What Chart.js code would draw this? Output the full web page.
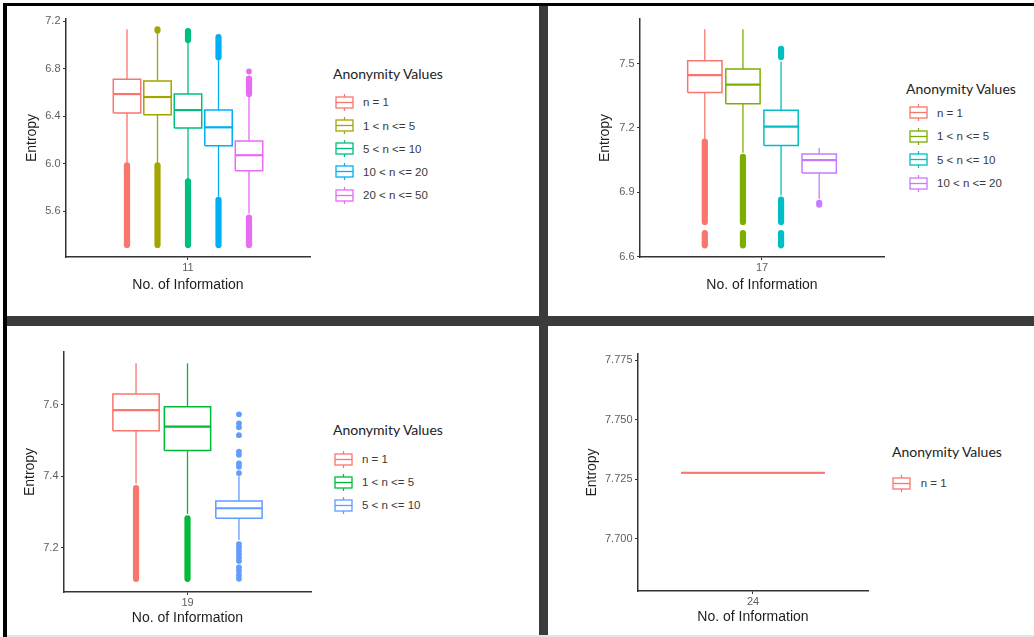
<!DOCTYPE html>
<html>
<head>
<meta charset="utf-8">
<title>Entropy by anonymity values</title>
<script src="https://cdn.jsdelivr.net/npm/chart.js"></script>
<style>
  html, body { margin: 0; padding: 0; background: #fff; }
  #page { position: relative; width: 1034px; height: 637px; overflow: hidden; background: #fff; }
  .frame-top { position: absolute; left: 3px; top: 3px; width: 1031px; height: 3px; background: #000; }
  .frame-left { position: absolute; left: 3px; top: 3px; width: 4px; height: 634px; background: #000; }
  .split-v { position: absolute; left: 539px; top: 6px; width: 9px; height: 631px; background: #3b3b3b; }
  .split-h { position: absolute; left: 7px; top: 316px; width: 1027px; height: 10px; background: #3b3b3b; }
  .foot { position: absolute; left: 7px; top: 635px; width: 1027px; height: 2px; background: #e4e4e4; }
  canvas { position: absolute; }
  .legend-title { position: absolute; height: 18px; line-height: 18px; font: 14px Lato, sans-serif; color: #222; white-space: nowrap; }
  .legend-item { position: absolute; height: 18px; display: flex; align-items: center; font: 11.5px "Liberation Sans", Arial, sans-serif; color: #3a3a3a; white-space: nowrap; }
  .legend-item svg { margin-right: 9.5px; flex: none; }
</style>
</head>
<body>
<div id="page">
  <div class="frame-top"></div>
  <div class="frame-left"></div>
  <div class="split-v"></div>
  <div class="split-h"></div>
  <div class="foot"></div>
  <canvas id="info11"></canvas>
  <canvas id="info17"></canvas>
  <canvas id="info19"></canvas>
  <canvas id="info24"></canvas>
</div>
<script>
// ---- No. of Information = 11 ----
const info11Groups = ['n = 1', '1 < n <= 5', '5 < n <= 10', '10 < n <= 20', '20 < n <= 50'];
const info11Low = [6.00, 6.00, 5.87, 5.72, 5.58];
const info11Q1 = [6.425, 6.41, 6.30, 6.15, 5.94];
const info11Median = [6.585, 6.56, 6.45, 6.305, 6.07];
const info11Q3 = [6.71, 6.695, 6.585, 6.45, 6.19];
const info11High = [7.13, 7.10, 7.02, 6.87, 6.56];
const info11Bands = [[[5.315, 5.985]], [[5.315, 5.985], [7.12, 7.13]], [[5.315, 5.85], [7.04, 7.115]], [[5.315, 5.695], [6.895, 7.065]], [[5.315, 5.545], [6.585, 6.715]]];
const info11Points = [[], [], [], [], [6.775]];
const info11Ticks = [5.6, 6.0, 6.4, 6.8, 7.2];
const info11Range = [5.213, 7.217];

// ---- No. of Information = 17 ----
const info17Groups = ['n = 1', '1 < n <= 5', '5 < n <= 10', '10 < n <= 20'];
const info17Low = [7.15, 7.085, 6.885, 6.87];
const info17Q1 = [7.365, 7.313, 7.118, 6.99];
const info17Median = [7.446, 7.402, 7.206, 7.05];
const info17Q3 = [7.513, 7.475, 7.283, 7.079];
const info17High = [7.66, 7.66, 7.51, 7.107];
const info17Bands = [[[6.762, 7.136], [6.653, 6.71]], [[6.762, 7.066], [6.653, 6.71]], [[6.762, 6.866], [6.653, 6.71], [7.531, 7.569]], [[6.843, 6.851]]];
const info17Points = [[], [], [], []];
const info17Ticks = [6.6, 6.9, 7.2, 7.5];
const info17Range = [6.5986, 7.708];

// ---- No. of Information = 19 ----
const info19Groups = ['n = 1', '1 < n <= 5', '5 < n <= 10'];
const info19Low = [7.38, 7.295, 7.222];
const info19Q1 = [7.527, 7.472, 7.283];
const info19Median = [7.585, 7.539, 7.311];
const info19Q3 = [7.63, 7.594, 7.331];
const info19High = [7.7155, 7.7155, 7.40];
const info19Bands = [[[7.114, 7.367]], [[7.114, 7.283]], []];
const info19Points = [[], [], [7.573, 7.548, 7.537, 7.515, 7.469, 7.460, 7.436, 7.427, 7.409,
  7.211, 7.202, 7.192, 7.183, 7.174, 7.164, 7.146, 7.136, 7.124, 7.114]];
const info19Ticks = [7.2, 7.4, 7.6];
const info19Range = [7.0772, 7.747];

// ---- No. of Information = 24 ----
const info24Groups = ['n = 1'];
const info24Low = [7.7278];
const info24Q1 = [7.7278];
const info24Median = [7.7278];
const info24Q3 = [7.7278];
const info24High = [7.7278];
const info24Bands = [[]];
const info24Points = [[]];
const info24Ticks = [7.700, 7.725, 7.750, 7.775];
const info24Range = [7.6781, 7.7777];

// ggplot hue palettes
const hue5 = ['#F8766D', '#A3A500', '#00BF7D', '#00B0F6', '#E76BF3'];
const hue4 = ['#F8766D', '#7CAE00', '#00BFC4', '#C77CFF'];
const hue3 = ['#F8766D', '#00BA38', '#619CFF'];
const hue1 = ['#F8766D'];

const DODGE = 0.75;
const AXIS_COLOR = '#333';
const TICK_COLOR = '#5e5e5e';
const TITLE_COLOR = '#1e1e1e';

const panels = [
  {
    id: 'info11', xLabel: '11', decimals: 1,
    groups: info11Groups, low: info11Low, q1: info11Q1, median: info11Median, q3: info11Q3, high: info11High,
    bands: info11Bands, points: info11Points, ticks: info11Ticks, range: info11Range, colors: hue5,
    box: { left: 7, top: 6, width: 310, height: 300, plotLeft: 66, plotTop: 19, plotRight: 310, plotBottom: 257, xTitleY: 285, yTitleX: 31.7 },
    legend: { titleLeft: 333, titleY: 74.3, iconX: 344, firstY: 102.3, step: 23.2 }
  },
  {
    id: 'info17', xLabel: '17', decimals: 1,
    groups: info17Groups, low: info17Low, q1: info17Q1, median: info17Median, q3: info17Q3, high: info17High,
    bands: info17Bands, points: info17Points, ticks: info17Ticks, range: info17Range, colors: hue4,
    box: { left: 548, top: 6, width: 344, height: 300, plotLeft: 640, plotTop: 19, plotRight: 884, plotBottom: 257, xTitleY: 285, yTitleX: 605 },
    legend: { titleLeft: 906, titleY: 89.3, iconX: 918, firstY: 112.5, step: 23.6 }
  },
  {
    id: 'info19', xLabel: '19', decimals: 1,
    groups: info19Groups, low: info19Low, q1: info19Q1, median: info19Median, q3: info19Q3, high: info19High,
    bands: info19Bands, points: info19Points, ticks: info19Ticks, range: info19Range, colors: hue3,
    box: { left: 7, top: 326, width: 311, height: 309, plotLeft: 64, plotTop: 352, plotRight: 311, plotBottom: 592, xTitleY: 617.7, yTitleX: 30 },
    legend: { titleLeft: 333, titleY: 430, iconX: 343, firstY: 459, step: 23 }
  },
  {
    id: 'info24', xLabel: '24', decimals: 3,
    groups: info24Groups, low: info24Low, q1: info24Q1, median: info24Median, q3: info24Q3, high: info24High,
    bands: info24Bands, points: info24Points, ticks: info24Ticks, range: info24Range, colors: hue1,
    box: { left: 548, top: 326, width: 328, height: 309, plotLeft: 638, plotTop: 354, plotRight: 868, plotBottom: 591, xTitleY: 616.7, yTitleX: 591.7 },
    legend: { titleLeft: 892, titleY: 452.3, iconX: 901.7, firstY: 483.3, step: 23 }
  }
];

// Build whiskers, outlier runs, outlier points, box outline and median per group
function boxDatasets(p) {
  const n = p.groups.length;
  const slot = DODGE / n;
  const half = slot * (n > 1 ? 0.9 : 1) / 2;
  const sets = [];

  p.groups.forEach((g, i) => {
    const x = 1 - DODGE / 2 + slot * (i + 0.5);
    const c = p.colors[i];
    const line = (data, width, extra) => Object.assign({
      data: data, showLine: true, borderColor: c, borderWidth: width,
      pointRadius: 0, fill: false
    }, extra || {});

    sets.push(line([{ x: x, y: p.q3[i] }, { x: x, y: p.high[i] }], 1.3));
    sets.push(line([{ x: x, y: p.low[i] }, { x: x, y: p.q1[i] }], 1.3));

    // dense outlier runs look like a solid column of dots
    p.bands[i].forEach(([lo, hi]) => {
      sets.push(line([{ x: x, y: lo }, { x: x, y: hi }], 6.2, { borderCapStyle: 'round' }));
    });

    if (p.points[i].length) {
      sets.push({
        data: p.points[i].map(v => ({ x: x, y: v })),
        showLine: false, borderColor: c, pointRadius: 2.9,
        pointBackgroundColor: c, pointBorderWidth: 0
      });
    }

    sets.push(line([
      { x: x - half, y: p.q1[i] }, { x: x + half, y: p.q1[i] },
      { x: x + half, y: p.q3[i] }, { x: x - half, y: p.q3[i] },
      { x: x - half, y: p.q1[i] }
    ], 1.5, { borderJoinStyle: 'miter' }));

    sets.push(line([{ x: x - half, y: p.median[i] }, { x: x + half, y: p.median[i] }], 2.2));
  });
  return sets;
}

function legendIcon(c) {
  return '<svg width="19" height="17" viewBox="0 0 19 17">' +
    '<line x1="9.5" y1="0" x2="9.5" y2="3" stroke="' + c + '" stroke-width="1.2"/>' +
    '<rect x="1" y="3" width="17" height="11" fill="#fff" stroke="' + c + '" stroke-width="1.3"/>' +
    '<line x1="1" y1="8.5" x2="18" y2="8.5" stroke="' + c + '" stroke-width="1.3"/>' +
    '<line x1="9.5" y1="14" x2="9.5" y2="17" stroke="' + c + '" stroke-width="1.2"/>' +
    '</svg>';
}

function renderLegend(p) {
  const page = document.getElementById('page');
  const lg = p.legend;
  const title = document.createElement('div');
  title.className = 'legend-title';
  title.style.left = lg.titleLeft + 'px';
  title.style.top = (lg.titleY - 9) + 'px';
  title.textContent = 'Anonymity Values';
  page.appendChild(title);

  p.groups.forEach((g, i) => {
    const item = document.createElement('div');
    item.className = 'legend-item';
    item.style.left = (lg.iconX - 9.5) + 'px';
    item.style.top = (lg.firstY + i * lg.step - 9) + 'px';
    item.innerHTML = legendIcon(p.colors[i]) + '<span></span>';
    item.querySelector('span').textContent = g;
    page.appendChild(item);
  });
}

function renderPanel(p) {
  const b = p.box;
  const canvas = document.getElementById(p.id);
  canvas.width = b.width;
  canvas.height = b.height;
  canvas.style.left = b.left + 'px';
  canvas.style.top = b.top + 'px';
  canvas.style.width = b.width + 'px';
  canvas.style.height = b.height + 'px';

  const yWidth = b.plotLeft - b.left;
  const xHeight = b.top + b.height - b.plotBottom;
  const titleFont = { family: 'Liberation Sans', size: 14 };
  const tickFont = { family: 'Liberation Sans', size: 11 };
  const half = titleFont.size * 1.2 / 2;

  new Chart(canvas, {
    type: 'scatter',
    data: { datasets: boxDatasets(p) },
    options: {
      responsive: false,
      animation: false,
      events: [],
      layout: { padding: { left: 0, top: b.plotTop - b.top, right: b.left + b.width - b.plotRight, bottom: 0 } },
      plugins: { legend: { display: false }, tooltip: { enabled: false } },
      scales: {
        x: {
          type: 'linear', min: 0.4, max: 1.6, bounds: 'data',
          afterBuildTicks: s => { s.ticks = [{ value: 1 }]; },
          afterFit: s => { s.height = xHeight; },
          grid: { display: true, drawOnChartArea: false, drawTicks: true, tickLength: 3, tickColor: AXIS_COLOR },
          border: { display: true, color: AXIS_COLOR, width: 1.5 },
          ticks: { callback: () => p.xLabel, color: TICK_COLOR, font: tickFont, padding: 1.5, maxRotation: 0, autoSkip: false },
          title: { display: true, text: 'No. of Information', color: TITLE_COLOR, font: titleFont,
                   padding: { top: 0, bottom: b.top + b.height - b.xTitleY - half } }
        },
        y: {
          type: 'linear', min: p.range[0], max: p.range[1], bounds: 'data',
          afterBuildTicks: s => { s.ticks = p.ticks.map(v => ({ value: v })); },
          afterFit: s => { s.width = yWidth; },
          grid: { display: true, drawOnChartArea: false, drawTicks: true, tickLength: 3, tickColor: AXIS_COLOR },
          border: { display: true, color: AXIS_COLOR, width: 1.5 },
          ticks: { callback: v => Number(v).toFixed(p.decimals), color: TICK_COLOR, font: tickFont, padding: 2.5, autoSkip: false },
          title: { display: true, text: 'Entropy', color: TITLE_COLOR, font: titleFont,
                   padding: { top: b.yTitleX - b.left - half, bottom: 0 } }
        }
      }
    }
  });

  renderLegend(p);
}

panels.forEach(renderPanel);
</script>
</body>
</html>
